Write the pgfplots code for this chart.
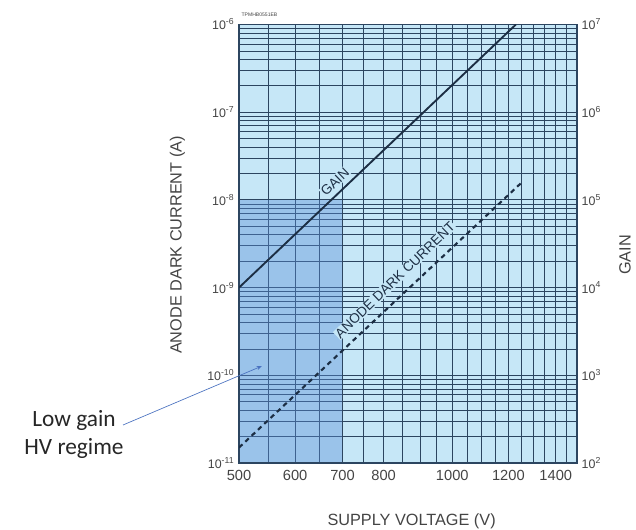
\documentclass[border=0pt]{standalone}
\usepackage{pgfplots}
\pgfplotsset{compat=1.18}
\usetikzlibrary{arrows.meta}
\usepackage{fontspec}
\setmainfont{Liberation Sans}
\newfontfamily\calibri{Carlito}
\definecolor{bgblue}{HTML}{C6E7F7}
\definecolor{shadeblue}{HTML}{5A8FD8}
\definecolor{gridc}{HTML}{2C4560}
\definecolor{linec}{HTML}{1C2E44}
\definecolor{tickc}{HTML}{444444}
\definecolor{arrowc}{HTML}{4A72C0}

\begin{document}
\begin{tikzpicture}
\path[use as bounding box] (0,0) rectangle (477pt,396.75pt);

% left axis: anode dark current
\begin{axis}[
  at={(179.25pt,49.5pt)}, anchor=south west,
  width=253.5pt, height=328.9pt, scale only axis,
  xmode=log, ymode=log,
  xmin=500, xmax=1500, ymin=1e-11, ymax=1e-6,
  xtick={500,600,700,800,1000,1200,1400},
  xticklabels={500,600,700,800,1000,1200,1400},
  minor xtick={550,650,750,850,900,950,1050,1100,1150,1250,1300,1350,1450},
  ytick={1e-11,1e-10,1e-9,1e-8,1e-7,1e-6},
  yticklabels={10\textsuperscript{-11},10\textsuperscript{-10},10\textsuperscript{-9},10\textsuperscript{-8},10\textsuperscript{-7},10\textsuperscript{-6}},
  minor ytick={2e-11,3e-11,4e-11,5e-11,6e-11,7e-11,8e-11,9e-11,
               2e-10,3e-10,4e-10,5e-10,6e-10,7e-10,8e-10,9e-10,
               2e-9,3e-9,4e-9,5e-9,6e-9,7e-9,8e-9,9e-9,
               2e-8,3e-8,4e-8,5e-8,6e-8,7e-8,8e-8,9e-8,
               2e-7,3e-7,4e-7,5e-7,6e-7,7e-7,8e-7,9e-7},
  xtick pos=bottom, ytick pos=left,
  grid=both,
  major grid style={gridc, line width=0.6pt},
  minor grid style={gridc, line width=0.45pt},
  axis line style={gridc, line width=1pt},
  tick style={draw=none},
  axis background/.style={fill=bgblue},
  xticklabel style={font=\fontsize{11}{13}\selectfont, text=tickc, yshift=-2pt},
  yticklabel style={font=\fontsize{9.3}{11}\selectfont, text=tickc},
]
\addplot[draw=gridc, line width=0.9pt, fill=shadeblue, fill opacity=0.4]
  coordinates {(500,1e-11)(500,1e-8)(700,1e-8)(700,1e-11)} -- cycle;
\addplot[linec, line width=1.6pt, dash pattern=on 3.5pt off 3pt]
  coordinates {(500,1.5e-11)(1250,1.55e-8)};
\node[rotate=44, fill=bgblue, inner sep=0.6pt, text=linec,
      font=\fontsize{10.2}{12}\selectfont] at (axis cs:830,1.22e-9) {ANODE DARK CURRENT};
\node[rotate=44, fill=bgblue, inner sep=0.6pt, text=linec,
      font=\fontsize{10.2}{12}\selectfont] at (axis cs:683,1.6e-8) {GAIN};
\end{axis}

% right axis: gain
\begin{axis}[
  at={(179.25pt,49.5pt)}, anchor=south west,
  width=253.5pt, height=328.9pt, scale only axis,
  xmode=log, ymode=log,
  xmin=500, xmax=1500, ymin=1e2, ymax=1e7,
  hide x axis,
  axis y line*=right,
  axis line style={gridc, line width=1pt},
  ytick={1e2,1e3,1e4,1e5,1e6,1e7},
  yticklabels={10\textsuperscript{2},10\textsuperscript{3},10\textsuperscript{4},10\textsuperscript{5},10\textsuperscript{6},10\textsuperscript{7}},
  tick style={draw=none},
  yticklabel style={font=\fontsize{9.3}{11}\selectfont, text=tickc},
]
\addplot[linec, line width=1.4pt] coordinates {(500,1e4)(1230,1e7)};
\end{axis}

% axis titles and notes
\node[rotate=90, text=tickc, font=\fontsize{12.2}{14}\selectfont] at (133pt,213pt) {ANODE DARK CURRENT (A)};
\node[rotate=90, text=tickc, font=\fontsize{12.2}{14}\selectfont] at (468.75pt,205.5pt) {GAIN};
\node[text=tickc, font=\fontsize{12.2}{14}\selectfont] at (308.7pt,5.8pt) {SUPPLY VOLTAGE (V)};
\node[anchor=west, text=tickc, font=\fontsize{3.8}{4}\selectfont, inner sep=0pt] at (181pt,385.5pt) {TPMHB0551EB};
\node[align=center, font=\calibri\fontsize{17.5}{21}\selectfont, text=black!85] at (55.5pt,71.25pt) {Low gain\\HV regime};
\draw[arrowc, line width=0.5pt, -{Stealth[length=4pt,width=3pt]}] (92.25pt,78pt) -- (196.5pt,122.25pt);
\end{tikzpicture}
\end{document}
